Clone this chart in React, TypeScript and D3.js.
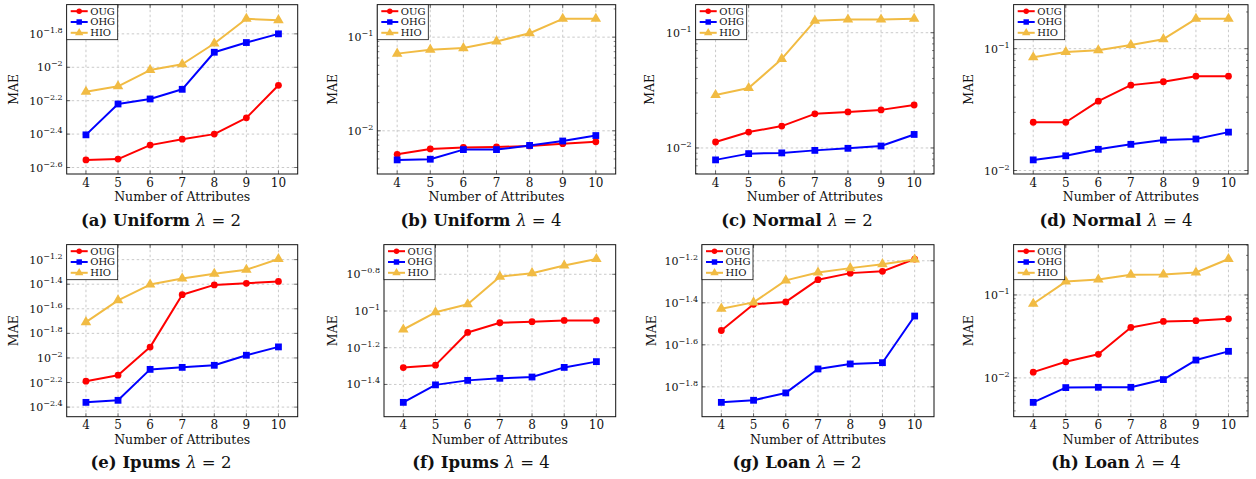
import React, { useRef, useEffect } from "react";
import * as d3 from "d3";

const attributes = [4, 5, 6, 7, 8, 9, 10];
const methods = ["OUG", "OHG", "HIO"];
const methodColors = ["#ff0000", "#0000ff", "#f1bb43"];

// MAE values, rows are OUG, OHG, HIO
const uniformL2 = [
  [0.00279, 0.00282, 0.00342, 0.00371, 0.00398, 0.00498, 0.0078],
  [0.00394, 0.00603, 0.00646, 0.00738, 0.0123, 0.01406, 0.01585],
  [0.00714, 0.00769, 0.00962, 0.01042, 0.01387, 0.0195, 0.01914],
];
const uniformL4 = [
  [0.00561, 0.0064, 0.00665, 0.00671, 0.00689, 0.00728, 0.00764],
  [0.00489, 0.00497, 0.0063, 0.0063, 0.00698, 0.00778, 0.0089],
  [0.0667, 0.0735, 0.0764, 0.09, 0.11, 0.157, 0.157],
];
const normalL2 = [
  [0.01127, 0.01374, 0.01548, 0.01977, 0.02056, 0.0214, 0.0236],
  [0.00788, 0.00893, 0.00906, 0.00953, 0.00993, 0.0104, 0.0131],
  [0.0288, 0.0331, 0.0592, 0.1268, 0.13, 0.13, 0.132],
];
const normalL4 = [
  [0.0249, 0.0249, 0.0371, 0.0502, 0.0535, 0.0594, 0.0594],
  [0.01222, 0.0132, 0.01493, 0.0164, 0.0178, 0.01813, 0.02065],
  [0.0849, 0.0938, 0.0969, 0.107, 0.1197, 0.1758, 0.1758],
];
const ipumsL2 = [
  [0.00647, 0.00724, 0.01225, 0.0327, 0.0393, 0.0405, 0.0419],
  [0.00435, 0.00452, 0.00807, 0.00838, 0.00871, 0.01052, 0.0123],
  [0.01954, 0.02944, 0.03955, 0.04426, 0.0484, 0.0522, 0.0638],
];
const ipumsL4 = [
  [0.0492, 0.0507, 0.0764, 0.0863, 0.0875, 0.0889, 0.0889],
  [0.0318, 0.0396, 0.0419, 0.043, 0.0437, 0.0493, 0.053],
  [0.0793, 0.0984, 0.1089, 0.1538, 0.1607, 0.177, 0.1919],
];
const loanL2 = [
  [0.02938, 0.03917, 0.0402, 0.0513, 0.0551, 0.0562, 0.0643],
  [0.01337, 0.01368, 0.01483, 0.01928, 0.02037, 0.02065, 0.03443],
  [0.03733, 0.03999, 0.0509, 0.05546, 0.0582, 0.0608, 0.064],
];
const loanL4 = [
  [0.01173, 0.01563, 0.01923, 0.04055, 0.048, 0.0489, 0.0516],
  [0.00507, 0.00764, 0.0077, 0.0077, 0.00955, 0.0164, 0.0209],
  [0.0784, 0.145, 0.1535, 0.175, 0.1766, 0.1866, 0.271],
];

const panelData = [uniformL2, uniformL4, normalL2, normalL4, ipumsL2, ipumsL4, loanL2, loanL4];
const panelLetters = ["(a)", "(b)", "(c)", "(d)", "(e)", "(f)", "(g)", "(h)"];
const datasetNames = ["Uniform", "Uniform", "Normal", "Normal", "Ipums", "Ipums", "Loan", "Loan"];
const lambdas = [2, 4, 2, 4, 2, 4, 2, 4];
// y tick exponents (labels are 10^e)
const tickExponents = [
  [-2.6, -2.4, -2.2, -2, -1.8],
  [-2, -1],
  [-2, -1],
  [-2, -1],
  [-2.4, -2.2, -2, -1.8, -1.6, -1.4, -1.2],
  [-1.4, -1.2, -1, -0.8],
  [-1.8, -1.6, -1.4, -1.2],
  [-2, -1],
];

const FONT = "'DejaVu Serif', serif";

const App = () => {
  const svgRef = useRef(null);

  useEffect(() => {
    const svg = d3.select(svgRef.current);
    svg.selectAll("*").remove();

    const frameLefts = [66.7, 377.3, 695.7, 1013.7, 66.7, 384, 702, 1013.7];
    const frameRights = [297.7, 615.7, 934, 1248];
    const rowTop = [4.7, 244.7];
    const rowBottom = [174, 416.7];
    const yLabelX = [13, 332.3, 649.7, 968.7, 13.3, 332.3, 651.3, 968.7];
    const titleX = [161, 481, 797, 1116];

    panelData.forEach((rows, i) => {
      const col = i % 4;
      const row = Math.floor(i / 4);
      const left = frameLefts[i];
      const right = frameRights[col];
      const top = rowTop[row];
      const bottom = rowBottom[row];
      const g = svg.append("g");

      const x = d3.scaleLinear().domain([3.4, 10.6]).range([left, right]);
      const logs = rows.flat().map(v => Math.log10(v));
      const lo = d3.min(logs);
      const hi = d3.max(logs);
      const pad = (hi - lo) * 0.1;
      const y = d3.scaleLog()
        .domain([Math.pow(10, lo - pad), Math.pow(10, hi + pad)])
        .range([bottom, top]);

      const majors = tickExponents[i];

      // grid
      attributes.forEach(a => {
        g.append("line")
          .attr("x1", x(a)).attr("x2", x(a))
          .attr("y1", top).attr("y2", bottom)
          .attr("stroke", "#c4c4c4").attr("stroke-width", 0.9)
          .attr("stroke-dasharray", "2.5,2.5");
      });
      majors.forEach(e => {
        const yy = y(Math.pow(10, e));
        g.append("line")
          .attr("x1", left).attr("x2", right)
          .attr("y1", yy).attr("y2", yy)
          .attr("stroke", "#c4c4c4").attr("stroke-width", 0.9)
          .attr("stroke-dasharray", "2.5,2.5");
      });

      // ticks
      const tickColor = "#333";
      attributes.forEach(a => {
        g.append("line").attr("x1", x(a)).attr("x2", x(a)).attr("y1", bottom).attr("y2", bottom - 3.5)
          .attr("stroke", tickColor).attr("stroke-width", 0.7);
        g.append("line").attr("x1", x(a)).attr("x2", x(a)).attr("y1", top).attr("y2", top + 3.5)
          .attr("stroke", tickColor).attr("stroke-width", 0.7);
      });
      majors.forEach(e => {
        const yy = y(Math.pow(10, e));
        g.append("line").attr("x1", left).attr("x2", left + 3.5).attr("y1", yy).attr("y2", yy)
          .attr("stroke", tickColor).attr("stroke-width", 0.7);
        g.append("line").attr("x1", right).attr("x2", right - 3.5).attr("y1", yy).attr("y2", yy)
          .attr("stroke", tickColor).attr("stroke-width", 0.7);
      });
      // minor log ticks for decade axes
      if (majors.every(e => Number.isInteger(e))) {
        const [d0, d1] = y.domain();
        for (let dec = Math.floor(Math.log10(d0)); dec <= Math.ceil(Math.log10(d1)); dec++) {
          for (let k = 2; k <= 9; k++) {
            const v = k * Math.pow(10, dec);
            if (v <= d0 || v >= d1) continue;
            const yy = y(v);
            g.append("line").attr("x1", left).attr("x2", left + 2).attr("y1", yy).attr("y2", yy)
              .attr("stroke", tickColor).attr("stroke-width", 0.6);
            g.append("line").attr("x1", right).attr("x2", right - 2).attr("y1", yy).attr("y2", yy)
              .attr("stroke", tickColor).attr("stroke-width", 0.6);
          }
        }
      }

      // frame
      g.append("rect")
        .attr("x", left).attr("y", top)
        .attr("width", right - left).attr("height", bottom - top)
        .attr("fill", "none").attr("stroke", "#111").attr("stroke-width", 1);

      // tick labels
      majors.forEach(e => {
        const t = g.append("text")
          .attr("x", left - 4).attr("y", y(Math.pow(10, e)) + 4)
          .attr("text-anchor", "end")
          .attr("font-family", FONT).attr("font-size", 11).attr("fill", "#111");
        t.append("tspan").text("10");
        t.append("tspan").attr("dy", -5).attr("font-size", 8)
          .text("\u2212" + String(Math.abs(e)));
      });
      attributes.forEach(a => {
        g.append("text")
          .attr("x", x(a)).attr("y", bottom + 12.5)
          .attr("text-anchor", "middle")
          .attr("font-family", FONT).attr("font-size", 12).attr("fill", "#111")
          .text(a);
      });

      // axis labels
      g.append("text")
        .attr("x", (left + right) / 2).attr("y", bottom + 27)
        .attr("text-anchor", "middle")
        .attr("font-family", FONT).attr("font-size", 12.5).attr("fill", "#111")
        .text("Number of Attributes");
      const my = (top + bottom) / 2;
      g.append("text")
        .attr("transform", `translate(${yLabelX[i] + 4.5},${my}) rotate(-90)`)
        .attr("text-anchor", "middle")
        .attr("font-family", FONT).attr("font-size", 12.5).attr("fill", "#111")
        .text("MAE");

      // caption
      const cap = g.append("text")
        .attr("x", titleX[col]).attr("y", bottom + 51.5)
        .attr("text-anchor", "middle")
        .attr("font-family", FONT).attr("font-size", 16.5).attr("fill", "#111");
      cap.append("tspan").attr("font-weight", "bold").text(`${panelLetters[i]} ${datasetNames[i]} `);
      cap.append("tspan").attr("font-style", "italic").text("\u03bb");
      cap.append("tspan").text(` = ${lambdas[i]}`);

      // series
      const line = d3.line().x((_, j) => x(attributes[j])).y(v => y(v));
      rows.forEach((vals, s) => {
        g.append("path")
          .attr("d", line(vals))
          .attr("fill", "none")
          .attr("stroke", methodColors[s])
          .attr("stroke-width", 2)
          .attr("stroke-linejoin", "round");
        vals.forEach((v, j) => drawMarker(g, s, x(attributes[j]), y(v)));
      });

      // legend
      const lg = g.append("g").attr("transform", `translate(${left},${top})`);
      lg.append("rect").attr("x", 0).attr("y", 0).attr("width", 51).attr("height", 35)
        .attr("fill", "#fff").attr("stroke", "#111").attr("stroke-width", 0.8);
      methods.forEach((m, s) => {
        const ly = 6.5 + s * 10.8;
        lg.append("line").attr("x1", 4).attr("x2", 21).attr("y1", ly).attr("y2", ly)
          .attr("stroke", methodColors[s]).attr("stroke-width", 2);
        drawMarker(lg, s, 12.5, ly, 0.8);
        lg.append("text").attr("x", 23.5).attr("y", ly + 3.4)
          .attr("font-family", FONT).attr("font-size", 10).attr("fill", "#111")
          .text(m);
      });
    });
  }, []);

  return (
    <svg ref={svgRef} width={1256} height={479} style={{ display: "block", position: "absolute", left: 0, top: 0, background: "#fff" }} />
  );
};

function drawMarker(g, s, cx, cy, k = 1) {
  const c = methodColors[s];
  if (s === 0) {
    g.append("circle").attr("cx", cx).attr("cy", cy).attr("r", 3.4 * k).attr("fill", c);
  } else if (s === 1) {
    const h = 3.4 * k;
    g.append("rect").attr("x", cx - h).attr("y", cy - h).attr("width", 2 * h).attr("height", 2 * h).attr("fill", c);
  } else {
    g.append("path")
      .attr("d", d3.symbol().type(d3.symbolTriangle).size(48 * k * k)())
      .attr("transform", `translate(${cx},${cy})`)
      .attr("fill", c);
  }
}

export default App;
